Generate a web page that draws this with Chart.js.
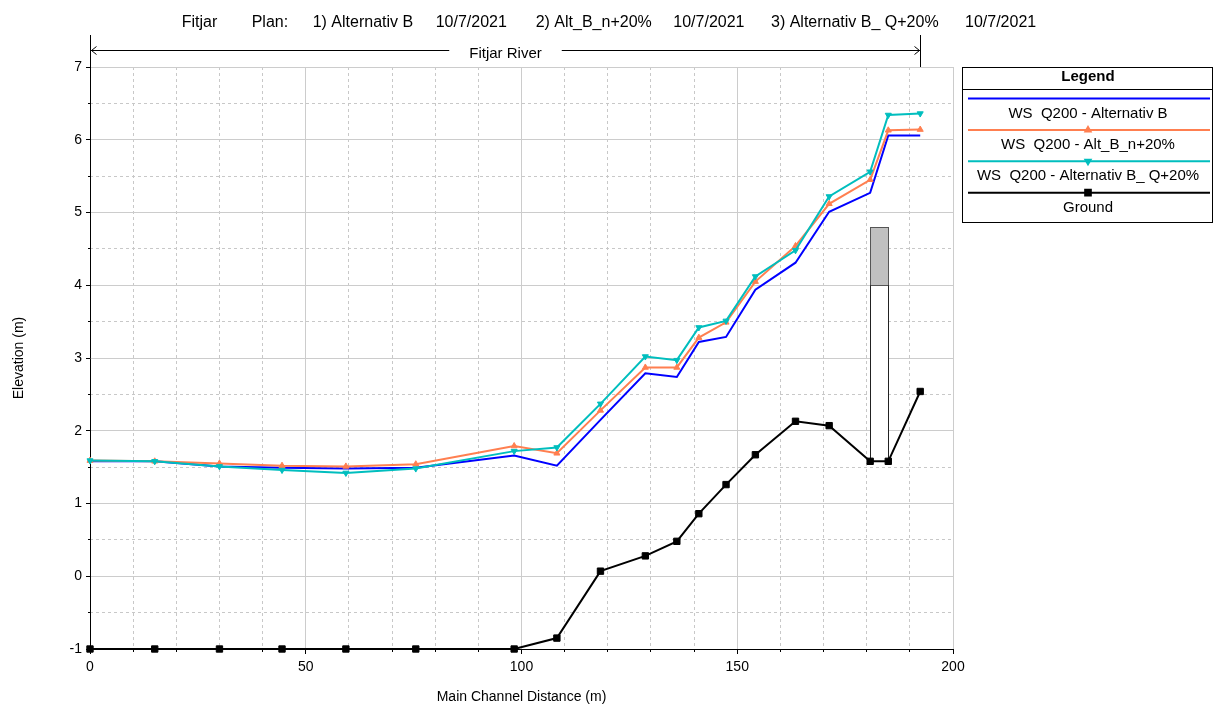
<!DOCTYPE html>
<html>
<head>
<meta charset="utf-8">
<script src="https://cdn.jsdelivr.net/npm/chart.js@4.4.1/dist/chart.umd.min.js"></script>
<style>
html, body { margin: 0; padding: 0; background: #fff; }
#wrap { width: 1214px; height: 706px; }
</style>
</head>
<body>
<div id="wrap"><canvas id="grafico" width="1214" height="706"></canvas></div>
<script>
// Datos
const stations = [0, 15, 30, 44.5, 59.3, 75.5, 98.3, 108.2, 118.3, 128.7, 136, 141.1, 147.4, 154.2, 163.5, 171.3, 180.8, 185.0, 192.4];
const wsAltB = [1.58, 1.58, 1.51, 1.49, 1.48, 1.49, 1.66, 1.52, 2.15, 2.79, 2.74, 3.22, 3.29, 3.94, 4.31, 5.01, 5.27, 6.06, 6.06];
const wsN20  = [1.59, 1.58, 1.55, 1.52, 1.51, 1.54, 1.79, 1.69, 2.28, 2.87, 2.87, 3.28, 3.49, 4.05, 4.54, 5.12, 5.45, 6.13, 6.14];
const wsQ20  = [1.59, 1.58, 1.51, 1.46, 1.42, 1.48, 1.72, 1.77, 2.37, 3.02, 2.97, 3.42, 3.51, 4.12, 4.48, 5.22, 5.56, 6.34, 6.36];
const ground = [-1, -1, -1, -1, -1, -1, -1, -0.85, 0.07, 0.28, 0.48, 0.86, 1.26, 1.67, 2.13, 2.07, 1.58, 1.58, 2.54];

// Puente
const bridgeStations = [180.8, 185.0];
const bridgeHighChord = 4.8;
const bridgeLowChord = 4.0;
const bridgeGround = 1.58;

const seriesLabels = ['WS  Q200 - Alternativ B', 'WS  Q200 - Alt_B_n+20%', 'WS  Q200 - Alternativ B_ Q+20%', 'Ground'];
const titleParts = ['Fitjar', 'Plan:', '1) Alternativ B', '10/7/2021', '2) Alt_B_n+20%', '10/7/2021', '3) Alternativ B_ Q+20%', '10/7/2021'];
const riverName = 'Fitjar River';
const xTitle = 'Main Channel Distance (m)';
const yTitle = 'Elevation (m)';

const FONT = '"Liberation Sans", Arial, sans-serif';
Chart.defaults.font.family = FONT;
Chart.defaults.color = '#000';

function toPoints(vals) {
  return stations.map((s, i) => ({ x: s, y: vals[i] }));
}

const isMajorX = v => Math.abs(v % 50) < 1e-9;
const isMajorY = v => Math.abs(v % 1) < 1e-9;
const CLEAR = 'rgba(0,0,0,0)';

// titulo, flecha del rio, puente y leyenda
const decoPlugin = {
  id: 'deco',
  beforeDatasetsDraw(chart) {
    const ctx = chart.ctx;
    const xs = chart.scales.x, ys = chart.scales.y;
    const x1 = xs.getPixelForValue(bridgeStations[0]);
    const x2 = xs.getPixelForValue(bridgeStations[1]);
    const yTop = ys.getPixelForValue(bridgeHighChord);
    const yLow = ys.getPixelForValue(bridgeLowChord);
    const yG = ys.getPixelForValue(bridgeGround);
    ctx.save();
    ctx.fillStyle = '#fff';
    ctx.fillRect(x1, yLow, x2 - x1, yG - yLow);
    ctx.fillStyle = '#c0c0c0';
    ctx.fillRect(x1, yTop, x2 - x1, yLow - yTop);
    ctx.strokeStyle = '#555';
    ctx.lineWidth = 1;
    ctx.strokeRect(Math.round(x1) + 0.5, Math.round(yTop) + 0.5, Math.round(x2 - x1), Math.round(yLow - yTop));
    ctx.beginPath();
    ctx.moveTo(Math.round(x1) + 0.5, yLow); ctx.lineTo(Math.round(x1) + 0.5, yG);
    ctx.moveTo(Math.round(x2) + 0.5, yLow); ctx.lineTo(Math.round(x2) + 0.5, yG);
    ctx.strokeStyle = '#222';
    ctx.stroke();
    ctx.restore();
  },
  afterDraw(chart) {
    const ctx = chart.ctx;
    const xs = chart.scales.x;
    ctx.save();

    // titulo
    const titleX = [181.7, 251.7, 312.7, 435.7, 535.7, 673.3, 771, 965];
    ctx.font = '16px ' + FONT;
    ctx.fillStyle = '#000';
    ctx.textAlign = 'left';
    ctx.textBaseline = 'alphabetic';
    titleParts.forEach((t, i) => ctx.fillText(t, titleX[i], 26.5));

    // flecha del rio
    const rx1 = Math.round(xs.getPixelForValue(stations[0])) + 0.5;
    const rx2 = Math.round(xs.getPixelForValue(stations[stations.length - 1])) + 0.5;
    const ry = 50.5;
    const rmid = (rx1 + rx2) / 2;
    ctx.font = '15px ' + FONT;
    const tw = ctx.measureText(riverName).width;
    ctx.strokeStyle = '#000';
    ctx.lineWidth = 1;
    ctx.beginPath();
    ctx.moveTo(rx1, 35); ctx.lineTo(rx1, chart.chartArea.top);
    ctx.moveTo(rx2, 35); ctx.lineTo(rx2, chart.chartArea.top);
    ctx.moveTo(rx1, ry); ctx.lineTo(rmid - tw / 2 - 20, ry);
    ctx.moveTo(rmid + tw / 2 + 20, ry); ctx.lineTo(rx2, ry);
    ctx.moveTo(rx1 + 6, ry - 4); ctx.lineTo(rx1 + 1, ry); ctx.lineTo(rx1 + 6, ry + 4);
    ctx.moveTo(rx2 - 6, ry - 4); ctx.lineTo(rx2 - 1, ry); ctx.lineTo(rx2 - 6, ry + 4);
    ctx.stroke();
    ctx.textAlign = 'center';
    ctx.fillText(riverName, rmid, 58);

    // leyenda
    const L = 962.5, T = 67.5, R = 1212.5, B = 222.5, cx = 1088;
    ctx.strokeStyle = '#000';
    ctx.strokeRect(L, T, R - L, B - T);
    ctx.beginPath();
    ctx.moveTo(L, 89.5); ctx.lineTo(R, 89.5);
    ctx.stroke();
    ctx.font = 'bold 15px ' + FONT;
    ctx.textBaseline = 'middle';
    ctx.fillText('Legend', cx, 77);
    ctx.font = '15px ' + FONT;
    chart.data.datasets.forEach((ds, i) => {
      const ly = 98.5 + i * 31.4;
      ctx.strokeStyle = ds.borderColor;
      ctx.lineWidth = 2;
      ctx.beginPath();
      ctx.moveTo(968, ly); ctx.lineTo(1210, ly);
      ctx.stroke();
      if (ds.pointRadius > 0) {
        ctx.fillStyle = ds.borderColor;
        ctx.strokeStyle = ds.borderColor;
        Chart.helpers.drawPoint(ctx, {
          pointStyle: ds.pointStyle, radius: ds.pointRadius - 0.5,
          rotation: ds.pointRotation || 0, borderWidth: 1
        }, cx, ly);
      }
      ctx.fillStyle = '#000';
      ctx.fillText(ds.label, cx, ly + 15);
    });
    ctx.restore();
  }
};

const ctx = document.getElementById('grafico').getContext('2d');

const grafico = new Chart(ctx, {
  type: 'line',
  data: {
    datasets: [
      {
        label: seriesLabels[0], data: toPoints(wsAltB),
        borderColor: '#0000ff', backgroundColor: '#0000ff',
        borderWidth: 2, pointRadius: 0, order: 3
      },
      {
        label: seriesLabels[1], data: toPoints(wsN20),
        borderColor: '#ff7f50', backgroundColor: '#ff7f50',
        borderWidth: 2, pointStyle: 'triangle', pointRadius: 3.5, order: 2
      },
      {
        label: seriesLabels[2], data: toPoints(wsQ20),
        borderColor: '#00bebe', backgroundColor: '#00bebe',
        borderWidth: 2, pointStyle: 'triangle', pointRotation: 180, pointRadius: 3.5, order: 1
      },
      {
        label: seriesLabels[3], data: toPoints(ground),
        borderColor: '#000000', backgroundColor: '#000000',
        borderWidth: 2, pointStyle: 'rect', pointRadius: 4.5, order: 0
      }
    ].map(d => Object.assign({ xAxisID: 'x', yAxisID: 'y', tension: 0, pointBorderWidth: 1, clip: false }, d))
  },
  options: {
    responsive: false,
    animation: false,
    layout: { padding: { left: 0, top: 67, right: 261, bottom: 0 } },
    plugins: {
      legend: { display: false },
      title: { display: false },
      tooltip: { enabled: false }
    },
    scales: {
      x: {
        type: 'linear', position: 'bottom', min: 0, max: 200, weight: 1,
        ticks: {
          stepSize: 10, autoSkip: false, maxRotation: 0, padding: 5,
          font: { size: 14 }, color: '#000',
          callback: v => isMajorX(v) ? v : ''
        },
        grid: {
          color: c => (c.tick && isMajorX(c.tick.value)) ? '#cccccc' : CLEAR,
          tickColor: c => (c.tick && isMajorX(c.tick.value)) ? '#000' : CLEAR,
          tickLength: 5
        },
        border: { color: '#000', width: 1 },
        title: { display: true, text: xTitle, font: { size: 14 }, color: '#000', padding: { top: 0, bottom: 0 } },
        afterFit: s => { s.height = 57; }
      },
      x2: {
        type: 'linear', position: 'bottom', min: 0, max: 200, weight: 0,
        ticks: { display: false, stepSize: 10, autoSkip: false },
        grid: {
          color: c => (c.tick && !isMajorX(c.tick.value)) ? '#c8c8c8' : CLEAR,
          tickColor: c => (c.tick && !isMajorX(c.tick.value)) ? '#000' : CLEAR,
          tickLength: 3
        },
        border: { display: false, dash: [3, 3] },
        afterFit: s => { s.height = 0; }
      },
      y: {
        type: 'linear', position: 'left', min: -1, max: 7, weight: 1,
        ticks: {
          stepSize: 0.5, autoSkip: false, padding: 4,
          font: { size: 14 }, color: '#000',
          callback: v => isMajorY(v) ? v : ''
        },
        grid: {
          color: c => (c.tick && isMajorY(c.tick.value)) ? '#cccccc' : CLEAR,
          tickColor: c => (c.tick && isMajorY(c.tick.value)) ? '#000' : CLEAR,
          tickLength: 4
        },
        border: { color: '#000', width: 1 },
        title: { display: true, text: yTitle, font: { size: 14 }, color: '#000', padding: { top: 11, bottom: 0 } },
        afterFit: s => { s.width = 90; }
      },
      y2: {
        type: 'linear', position: 'left', min: -1, max: 7, weight: 0,
        ticks: { display: false, stepSize: 0.5, autoSkip: false },
        grid: {
          color: c => (c.tick && !isMajorY(c.tick.value)) ? '#c8c8c8' : CLEAR,
          tickColor: c => (c.tick && !isMajorY(c.tick.value)) ? '#000' : CLEAR,
          tickLength: 2
        },
        border: { display: false, dash: [3, 3] },
        afterFit: s => { s.width = 0; }
      }
    }
  },
  plugins: [decoPlugin]
});
</script>
</body>
</html>
